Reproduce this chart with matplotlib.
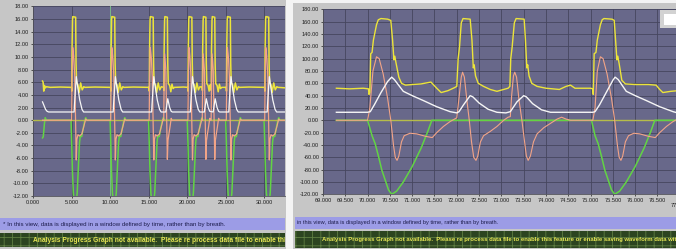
import matplotlib
matplotlib.use("Agg")
import matplotlib.pyplot as plt
from matplotlib.patches import Rectangle

plt.rcParams['font.family'] = ['Liberation Sans', 'DejaVu Sans']
plt.rcParams['hatch.linewidth'] = 0.6

W, H = 676, 249

# ---------------- left view (0 - 33 s) ----------------
left_xticks = [0, 5, 10, 15, 20, 25, 30]
left_yticks = [-12, -10, -8, -6, -4, -2, 0, 2, 4, 6, 8, 10, 12, 14, 16, 18]

left_yellow = [
    (1.2, 6.2), (1.28, 6.0), (1.36, 4.6), (1.45, 5.5), (1.55, 5.1), (1.7, 5.3), (2.2, 5.2), (3.5, 5.25),
    (4.97, 5.2), (5.0, 4.6), (5.03, 11.0), (5.09, 15.8), (5.13, 16.4), (5.5, 16.3), (5.55, 9.0), (5.62, 5.9),
    (5.8, 5.6), (5.95, 4.4), (6.15, 5.9), (6.35, 4.8), (6.55, 5.3), (6.7, 5.2), (8.0, 5.25),
    (10.04, 5.2), (10.07, 4.6), (10.1, 11.0), (10.16, 15.8), (10.2, 16.4), (10.57, 16.3), (10.62, 9.0), (10.69, 5.9),
    (10.87, 5.6), (11.02, 4.4), (11.22, 5.9), (11.42, 4.8), (11.62, 5.3), (11.77, 5.2), (13.0, 5.25),
    (15.03, 5.2), (15.06, 4.6), (15.09, 11.0), (15.15, 15.8), (15.19, 16.4), (15.56, 16.3), (15.61, 9.0), (15.68, 5.9),
    (15.86, 5.6), (16.01, 4.4), (16.21, 5.9), (16.41, 4.8), (16.61, 5.3),
    (16.92, 5.2), (16.95, 4.7), (16.98, 11.0), (17.04, 15.8), (17.08, 16.4), (17.4, 16.3), (17.45, 9.0), (17.52, 5.8),
    (17.7, 5.5), (17.85, 4.5), (18.0, 5.7), (18.15, 5.0), (18.3, 5.2), (19.5, 5.25),
    (20.05, 5.2), (20.08, 4.6), (20.11, 11.0), (20.17, 15.8), (20.21, 16.4), (20.58, 16.3), (20.63, 9.0), (20.7, 5.9),
    (20.88, 5.6), (21.03, 4.4), (21.23, 5.9), (21.43, 4.8), (21.63, 5.3),
    (21.92, 5.2), (21.95, 4.7), (21.98, 11.0), (22.04, 15.8), (22.08, 16.4), (22.4, 16.3), (22.45, 9.0), (22.52, 5.8),
    (22.68, 5.5), (22.82, 4.6), (22.95, 5.6),
    (23.07, 5.2), (23.1, 4.7), (23.13, 11.0), (23.19, 15.8), (23.23, 16.4), (23.55, 16.3), (23.6, 9.0), (23.67, 5.8),
    (23.85, 5.5), (24.0, 4.5), (24.15, 5.7), (24.3, 5.0), (24.45, 5.2),
    (25.04, 5.2), (25.07, 4.6), (25.1, 11.0), (25.16, 15.8), (25.2, 16.4), (25.57, 16.3), (25.62, 9.0), (25.69, 5.9),
    (25.87, 5.6), (26.02, 4.4), (26.22, 5.9), (26.42, 4.8), (26.62, 5.3), (26.77, 5.2), (28.0, 5.25),
    (30.02, 5.2), (30.05, 4.6), (30.08, 11.0), (30.14, 15.8), (30.18, 16.4), (30.55, 16.3), (30.6, 9.0), (30.67, 5.9),
    (30.85, 5.6), (31.0, 4.4), (31.2, 5.9), (31.4, 4.8), (31.6, 5.3), (31.75, 5.2), (33.0, 5.1),
]

left_white = [
    (1.2, 2.9), (1.4, 2.3), (1.6, 1.7), (1.8, 1.4), (2.0, 1.3), (5.3, 1.3),
    (5.35, 2.5), (5.58, 6.9), (5.78, 5.2), (6.03, 3.2), (6.33, 1.7), (6.53, 1.3), (10.37, 1.3),
    (10.42, 2.5), (10.65, 6.9), (10.85, 5.2), (11.1, 3.2), (11.4, 1.7), (11.6, 1.3), (15.36, 1.3),
    (15.41, 2.5), (15.64, 6.9), (15.84, 5.2), (16.09, 3.2), (16.39, 1.7), (16.59, 1.3), (17.2, 1.3),
    (17.3, 2.2), (17.45, 3.4), (17.7, 2.0), (17.9, 1.4), (18.05, 1.3), (20.38, 1.3),
    (20.43, 2.5), (20.66, 6.9), (20.86, 5.2), (21.11, 3.2), (21.41, 1.7), (21.61, 1.3), (22.2, 1.3),
    (22.3, 2.2), (22.45, 3.4), (22.7, 2.0), (22.9, 1.4), (23.35, 1.3),
    (23.45, 2.2), (23.6, 3.4), (23.85, 2.0), (24.05, 1.4), (24.2, 1.3), (25.37, 1.3),
    (25.42, 2.5), (25.65, 6.9), (25.85, 5.2), (26.1, 3.2), (26.4, 1.7), (26.6, 1.3), (30.35, 1.3),
    (30.4, 2.5), (30.63, 6.9), (30.83, 5.2), (31.08, 3.2), (31.38, 1.7), (31.58, 1.3), (33.0, 1.3),
]

left_orange = [
    (1.2, 0.0), (4.98, 0.0),
    (5.03, 6.0), (5.12, 11.5), (5.25, 10.0), (5.38, 7.0), (5.48, 0.5), (5.58, -6.3), (5.66, -3.0), (5.8, -2.3),
    (6.0, -2.5), (6.3, -2.2), (6.6, -0.8), (6.8, 0.2), (6.95, 0.0), (10.05, 0.0),
    (10.1, 6.0), (10.19, 11.5), (10.32, 10.0), (10.45, 7.0), (10.55, 0.5), (10.65, -6.3), (10.73, -3.0), (10.87, -2.3),
    (11.07, -2.5), (11.37, -2.2), (11.67, -0.8), (11.87, 0.2), (12.02, 0.0), (15.04, 0.0),
    (15.09, 6.0), (15.18, 11.5), (15.31, 10.0), (15.44, 7.0), (15.54, 0.5), (15.64, -6.3), (15.72, -3.0), (15.86, -2.3),
    (16.06, -2.5), (16.36, -2.2), (16.66, -0.8), (16.86, 0.2), (16.93, 0.0),
    (16.98, 6.0), (17.05, 10.5), (17.2, 8.0), (17.3, 1.0), (17.4, -6.2), (17.48, -3.2), (17.6, -2.2), (17.75, -1.0),
    (17.9, 0.3), (18.0, 0.0), (20.06, 0.0),
    (20.11, 6.0), (20.2, 11.5), (20.33, 10.0), (20.46, 7.0), (20.56, 0.5), (20.66, -6.3), (20.74, -3.0), (20.88, -2.3),
    (21.08, -2.5), (21.38, -2.2), (21.68, -0.8), (21.88, 0.2), (21.93, 0.0),
    (21.98, 6.0), (22.05, 10.5), (22.2, 8.0), (22.3, 1.0), (22.4, -6.2), (22.48, -3.2), (22.6, -2.2), (22.75, -1.0),
    (22.9, 0.3), (23.0, 0.0), (23.08, 0.0),
    (23.13, 6.0), (23.2, 10.5), (23.35, 8.0), (23.45, 1.0), (23.55, -6.2), (23.63, -3.2), (23.75, -2.2), (23.9, -1.0),
    (24.05, 0.3), (24.15, 0.0), (25.05, 0.0),
    (25.1, 6.0), (25.19, 11.5), (25.32, 10.0), (25.45, 7.0), (25.55, 0.5), (25.65, -6.3), (25.73, -3.0), (25.87, -2.3),
    (26.07, -2.5), (26.37, -2.2), (26.67, -0.8), (26.87, 0.2), (27.02, 0.0), (30.03, 0.0),
    (30.08, 6.0), (30.17, 11.5), (30.3, 10.0), (30.43, 7.0), (30.53, 0.5), (30.63, -6.3), (30.71, -3.0), (30.85, -2.3),
    (31.05, -2.5), (31.35, -2.2), (31.65, -0.8), (31.85, 0.2), (32.0, 0.0), (33.0, 0.0),
]

left_green = [
    (1.2, -2.8), (1.3, -2.6), (1.45, -0.5), (1.55, 0.4), (1.7, 0.0),
    (4.9, 0.0), (5.0, -4.0), (5.08, -8.0), (5.2, -11.5), (5.35, -13.2), (5.55, -13.2), (5.7, -11.5), (5.85, -7.5),
    (6.0, -3.5), (6.1, -2.5), (6.28, -2.6), (6.45, -1.5), (6.65, -0.2), (6.8, 0.4), (6.95, 0.0),
    (9.97, 0.0), (10.07, -4.0), (10.15, -8.0), (10.27, -11.5), (10.42, -13.2), (10.62, -13.2), (10.77, -11.5), (10.92, -7.5),
    (11.07, -3.5), (11.17, -2.5), (11.35, -2.6), (11.52, -1.5), (11.72, -0.2), (11.87, 0.4), (12.02, 0.0),
    (14.96, 0.0), (15.06, -4.0), (15.14, -8.0), (15.26, -11.5), (15.41, -13.2), (15.61, -13.2), (15.76, -11.5), (15.91, -7.5),
    (16.06, -3.5), (16.16, -2.5), (16.34, -2.6), (16.51, -1.5), (16.71, -0.2), (16.86, 0.4), (17.01, 0.0),
    (19.98, 0.0), (20.08, -4.0), (20.16, -8.0), (20.28, -11.5), (20.43, -13.2), (20.63, -13.2), (20.78, -11.5), (20.93, -7.5),
    (21.08, -3.5), (21.18, -2.5), (21.36, -2.6), (21.53, -1.5), (21.73, -0.2), (21.88, 0.4), (22.03, 0.0),
    (24.97, 0.0), (25.07, -4.0), (25.15, -8.0), (25.27, -11.5), (25.42, -13.2), (25.62, -13.2), (25.77, -11.5), (25.92, -7.5),
    (26.07, -3.5), (26.17, -2.5), (26.35, -2.6), (26.52, -1.5), (26.72, -0.2), (26.87, 0.4), (27.02, 0.0),
    (29.95, 0.0), (30.05, -4.0), (30.13, -8.0), (30.25, -11.5), (30.4, -13.2), (30.6, -13.2), (30.75, -11.5), (30.9, -7.5),
    (31.05, -3.5), (31.15, -2.5), (31.33, -2.6), (31.5, -1.5), (31.7, -0.2), (31.85, 0.4), (32.0, 0.0), (33.0, 0.0),
]

# ---------------- right view (69 - 77 s) ----------------
right_xticks = [69.0, 69.5, 70.0, 70.5, 71.0, 71.5, 72.0, 72.5, 73.0, 73.5, 74.0, 74.5, 75.0, 75.5, 76.0, 76.5]
right_yticks = [-120, -100, -80, -60, -40, -20, 0, 20, 40, 60, 80, 100, 120, 140, 160, 180]

right_yellow = [
    (69.3, 52), (69.6, 51), (69.9, 52), (70.02, 51), (70.03, 42), (70.05, 45), (70.07, 108), (70.1, 110), (70.13, 130),
    (70.2, 155), (70.24, 163), (70.3, 165), (70.45, 164), (70.52, 162), (70.56, 130), (70.59, 98), (70.61, 104),
    (70.64, 92), (70.7, 70), (70.76, 60), (70.85, 57), (71.0, 58), (71.2, 59), (71.42, 62), (71.55, 52), (71.65, 45),
    (71.8, 48), (71.95, 53), (72.0, 55),
    (72.03, 100), (72.06, 118), (72.1, 158), (72.14, 165), (72.3, 164), (72.34, 130), (72.37, 85), (72.39, 90),
    (72.42, 72), (72.48, 60), (72.6, 55), (72.75, 50), (72.9, 47), (73.05, 50), (73.15, 52), (73.19, 55),
    (73.21, 100), (73.24, 118), (73.29, 158), (73.33, 165), (73.51, 164), (73.54, 130), (73.57, 85), (73.59, 90),
    (73.62, 72), (73.68, 60), (73.8, 55), (74.0, 52), (74.3, 50), (74.45, 55), (74.55, 57), (74.65, 52), (74.8, 52),
    (75.0, 52), (75.05, 51),
    (75.06, 42), (75.08, 108), (75.12, 110), (75.15, 130), (75.22, 155), (75.26, 163), (75.3, 165), (75.48, 164),
    (75.53, 162), (75.56, 130), (75.59, 98), (75.61, 104), (75.64, 92), (75.7, 65), (75.78, 59), (76.0, 58),
    (76.3, 58), (76.47, 57), (76.55, 50), (76.62, 45), (76.8, 47), (76.95, 48),
]

right_orange = [
    (69.3, 0), (70.0, 0), (70.05, 20), (70.12, 80), (70.2, 103), (70.26, 100), (70.35, 75), (70.45, 35), (70.52, 0),
    (70.58, -40), (70.62, -60), (70.66, -65), (70.7, -58), (70.76, -35), (70.82, -25), (70.95, -21), (71.1, -22),
    (71.3, -26), (71.45, -28), (71.55, -20), (71.7, -10), (71.85, -2), (72.0, 4),
    (72.04, 30), (72.1, 70), (72.13, 78), (72.17, 70), (72.23, 30), (72.28, 0), (72.33, -35), (72.38, -60), (72.43, -65),
    (72.47, -58), (72.53, -35), (72.6, -25), (72.75, -18), (72.9, -10), (73.05, 0), (73.15, 5), (73.2, 6),
    (73.23, 40), (73.27, 72), (73.3, 78), (73.34, 70), (73.4, 30), (73.46, 0), (73.52, -35), (73.56, -58), (73.6, -65),
    (73.65, -58), (73.72, -35), (73.8, -22), (73.95, -12), (74.1, -5), (74.25, 2), (74.35, 5), (74.45, 2), (74.55, 0),
    (75.05, 0), (75.1, 20), (75.15, 80), (75.22, 103), (75.28, 100), (75.37, 75), (75.47, 35), (75.54, 0), (75.6, -40),
    (75.64, -60), (75.68, -65), (75.72, -58), (75.78, -35), (75.85, -25), (75.97, -21), (76.1, -22), (76.3, -26),
    (76.45, -28), (76.55, -20), (76.7, -10), (76.85, -2), (76.95, 2),
]

right_white = [
    (69.3, 13), (70.0, 13), (70.06, 14), (70.15, 25), (70.3, 45), (70.45, 63), (70.54, 70), (70.6, 66), (70.8, 47),
    (71.0, 40), (71.25, 32), (71.55, 22), (71.85, 14), (72.0, 12),
    (72.05, 14), (72.15, 25), (72.3, 40), (72.36, 38), (72.5, 28), (72.7, 18), (72.9, 13), (73.1, 12),
    (73.2, 14), (73.35, 30), (73.5, 40), (73.56, 38), (73.7, 27), (73.9, 17), (74.1, 13), (74.3, 13), (75.05, 13),
    (75.1, 14), (75.2, 25), (75.35, 45), (75.5, 65), (75.55, 70), (75.62, 66), (75.8, 47), (76.0, 40), (76.25, 32),
    (76.55, 22), (76.85, 14), (76.95, 12),
]

right_green = [
    (69.3, 0), (70.0, 0), (70.1, -25), (70.17, -38), (70.25, -60), (70.32, -81), (70.4, -98), (70.47, -113),
    (70.54, -120), (70.65, -115), (70.8, -100), (71.0, -75), (71.2, -45), (71.35, -18), (71.44, 0), (75.02, 0),
    (75.1, -25), (75.17, -38), (75.25, -60), (75.32, -81), (75.4, -98), (75.47, -113), (75.54, -120), (75.65, -115),
    (75.8, -100), (76.0, -75), (76.2, -45), (76.35, -18), (76.44, 0), (76.95, 0),
]

note_left = "* In this view, data is displayed in a window defined by time, rather than by breath."
note_right = "in this view, data is displayed in a window defined by time, rather than by breath."
status_left = "Analysis Progress Graph not available.  Please re process data file to enable this feature"
status_right = ("Analysis Progress Graph not available.  Please re process data file to enable this feature "
                "or enable saving waveform data with")

# colours
FRAME = '#c6c6c6'
PLOT_BG = '#68688a'
GRID = '#46465e'
YELLOW = '#ece43a'
ORANGE = '#f2a487'
WHITE = '#f6f6f6'
GREEN = '#62d444'
OLIVE = '#b6bc4a'
BLUE_BAND = '#9c9ce6'
GREEN_BAND = '#2c4420'
TICK_FS = 4.1


def fr(x0, y0, x1, y1):
    return [x0 / W, 1 - y1 / H, (x1 - x0) / W, (y1 - y0) / H]


def box(x0, y0, x1, y1, color, z):
    fig.add_artist(Rectangle((x0 / W, 1 - y1 / H), (x1 - x0) / W, (y1 - y0) / H,
                             transform=fig.transFigure, facecolor=color, edgecolor='none', zorder=z))


def band(x0, y0, x1, y1, color):
    ax = fig.add_axes(fr(x0, y0, x1, y1))
    ax.set_facecolor(color)
    ax.set_xticks([])
    ax.set_yticks([])
    for s in ax.spines.values():
        s.set_visible(False)
    ax.set_xlim(x0, x1)
    ax.set_ylim(y1, y0)
    return ax


def unzip(pairs):
    return [p[0] for p in pairs], [p[1] for p in pairs]


fig = plt.figure(figsize=(W / 100, H / 100), dpi=100)
fig.patch.set_facecolor('#f4f4f4')

# panel frames (behind the axes)
box(0, 0, 286, 249, FRAME, -5)
box(293, 3, 676, 249, FRAME, -5)

# ---- left chart ----
axL = fig.add_axes(fr(32.5, 6.5, 284.5, 196))
axL.set_facecolor(PLOT_BG)
axL.set_xlim(-0.1, 32.6)
axL.set_ylim(-12, 18)
axL.set_xticks(left_xticks)
axL.set_xticklabels(['%.3f' % v for v in left_xticks])
axL.set_yticks(left_yticks)
axL.set_yticklabels(['%.2f' % v for v in left_yticks])
axL.axvline(10, color='#7ab88a', lw=0.7, zorder=1.5)

x, y = unzip(left_green)
axL.plot(x, y, color=GREEN, lw=1.1, zorder=3)
axL.axhline(0, color=OLIVE, lw=1.0, zorder=3.5)
x, y = unzip(left_yellow)
axL.plot(x, y, color=YELLOW, lw=1.1, zorder=4)
x, y = unzip(left_orange)
axL.plot(x, y, color=ORANGE, lw=0.9, zorder=4.5)
x, y = unzip(left_white)
axL.plot(x, y, color=WHITE, lw=0.9, zorder=5)

# ---- right chart ----
axR = fig.add_axes(fr(323, 9.3, 676, 194.3))
axR.set_facecolor(PLOT_BG)
axR.set_xlim(69.0, 76.915)
axR.set_ylim(-120, 180)
axR.set_xticks(right_xticks)
axR.set_xticklabels(['%.3f' % v for v in right_xticks])
axR.set_yticks(right_yticks)
axR.set_yticklabels(['%.2f' % v for v in right_yticks])
axR.text(77.0, -0.045, '77.000', transform=axR.get_xaxis_transform(), ha='center', va='top',
         fontsize=TICK_FS, color='#1e1e1e', clip_on=False)

axR.plot([69.3, 76.95], [0, 0], color=OLIVE, lw=1.0, zorder=3)
x, y = unzip(right_green)
axR.plot(x, y, color=GREEN, lw=1.1, zorder=3.5)
x, y = unzip(right_orange)
axR.plot(x, y, color=ORANGE, lw=0.8, zorder=4)
x, y = unzip(right_white)
axR.plot(x, y, color=WHITE, lw=1.0, zorder=4.5)
x, y = unzip(right_yellow)
axR.plot(x, y, color=YELLOW, lw=1.0, zorder=5)

for ax in (axL, axR):
    ax.grid(True, color=GRID, lw=0.6)
    ax.set_axisbelow(True)
    ax.tick_params(labelsize=TICK_FS, length=1.5, width=0.5, pad=1.2, colors='#1e1e1e')
    for side in ('top', 'right'):
        ax.spines[side].set_visible(False)
    for side in ('left', 'bottom'):
        ax.spines[side].set_color('#50505a')
        ax.spines[side].set_linewidth(0.6)

# legend box in right chart corner
box(660, 10, 676, 28, '#d2d2d2', 10)
box(664, 14, 676, 25, '#ffffff', 11)

# ---- bottom bands ----
b = band(0, 218, 285, 230, BLUE_BAND)
b.text(3, 224, note_left, fontsize=4.4, color='#1c1c4a', va='center', ha='left', clip_on=True)
b = band(295, 216.5, 676, 228.5, BLUE_BAND)
b.text(297, 222.5, note_right, fontsize=4.05, color='#1c1c4a', va='center', ha='left', clip_on=True)

for (x0, y0, x1, y1, tx, s, fs) in [(0, 233, 285, 247, 33, status_left, 4.8),
                                     (295, 230.5, 676, 247.5, 322, status_right, 4.35)]:
    b = band(x0, y0, x1, y1, GREEN_BAND)
    b.add_patch(Rectangle((x0, y0), x1 - x0, y1 - y0, facecolor='none', edgecolor='#5f7e42',
                          hatch='++', lw=0))
    b.text(tx, (y0 + y1) / 2 + 0.5, s, fontsize=fs, color='#e6e654', fontweight='bold',
           va='center', ha='left', clip_on=True)

fig.savefig('out.png', dpi=100, facecolor=fig.get_facecolor())
